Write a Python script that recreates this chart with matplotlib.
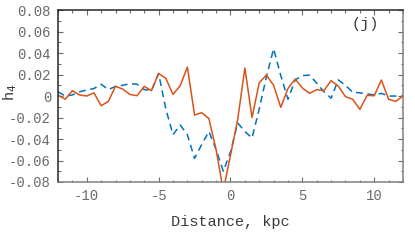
import matplotlib

matplotlib.use("Agg")

import matplotlib.pyplot as plt
import numpy as np
from matplotlib.ticker import FixedLocator, MultipleLocator, FuncFormatter

plt.rcParams["font.family"] = ["Liberation Mono", "DejaVu Sans Mono"]
plt.rcParams["axes.unicode_minus"] = False

# distance grid, kpc (0.5 kpc step)
distance = np.arange(-12, 12.01, 0.5)

h4_dashed = [
    0.004, 0.0, 0.001, 0.004, 0.0056, 0.007, 0.011, 0.006, 0.009, 0.010,
    0.0115, 0.011, 0.006, 0.005, 0.021, -0.012, -0.036, -0.027, -0.036, -0.058,
    -0.045, -0.033, -0.050, -0.070, -0.052, -0.025, -0.033, -0.039, -0.012, 0.018,
    0.044, 0.019, -0.003, 0.015, 0.019, 0.0195, 0.012, 0.004, -0.002, 0.015,
    0.010, 0.0035, 0.003, 0.002, 0.001, 0.0025, 0.0, 0.0, 0.0,
]

h4_solid = [
    0.001, -0.003, 0.005, 0.001, 0.0, 0.003, -0.009, -0.005, 0.009, 0.0065,
    0.0015, 0.0003, 0.009, 0.005, 0.021, 0.0165, 0.0015, 0.0096, 0.027, -0.0177,
    -0.0155, -0.021, -0.050, -0.088, -0.055, -0.022, 0.026, -0.020, 0.0124, 0.0195,
    0.010, -0.0105, 0.007, 0.0158, 0.0075, 0.0025, 0.006, 0.005, 0.0143, 0.0093,
    -0.0006, -0.003, -0.0124, 0.0006, 0.0003, 0.0149, -0.003, -0.005, 0.0,
]

x_ticks = [-10, -5, 0, 5, 10]
y_ticks = [-0.08, -0.06, -0.04, -0.02, 0, 0.02, 0.04, 0.06, 0.08]


def y_label(v, pos):
    if abs(v) < 1e-9:
        return "0"
    return f"{v:.2f}"


fig = plt.figure(figsize=(4.15, 2.4), dpi=100)
ax = fig.add_axes([0.1398, 0.2417, 0.8312, 0.7163])

ax.plot(distance, h4_dashed, color="#0072BD", linewidth=1.1, linestyle=(0, (4.5, 3)))
ax.plot(distance, h4_solid, color="#D95319", linewidth=1.1)

ax.set_xlim(-12, 12)
ax.set_ylim(-0.08, 0.08)
ax.xaxis.set_major_locator(FixedLocator(x_ticks))
ax.xaxis.set_minor_locator(MultipleLocator(1))
ax.yaxis.set_major_locator(FixedLocator(y_ticks))
ax.yaxis.set_minor_locator(MultipleLocator(0.01))
ax.yaxis.set_major_formatter(FuncFormatter(y_label))

ax.tick_params(which="both", direction="in", top=True, right=True,
               colors="#6a6a6a", labelsize=10, width=0.8)
ax.tick_params(which="major", length=3.6, pad=5)
ax.tick_params(which="minor", length=1.8)

for side in ["left", "top"]:
    ax.spines[side].set_color("#262626")
for side in ["bottom", "right"]:
    ax.spines[side].set_color("#808080")
for s in ax.spines.values():
    s.set_linewidth(1.1)

ax.set_xlabel("Distance, kpc", fontsize=11, color="#3a3a3a", labelpad=9)
ax.set_ylabel("h$_4$", fontsize=11, color="#3a3a3a")
ax.yaxis.set_label_coords(-0.113, 0.52)
ax.text(0.89, 0.92, "(j)", transform=ax.transAxes, ha="center", va="center",
        fontsize=11, color="#3a3a3a")

fig.savefig("out.png", dpi=100)
